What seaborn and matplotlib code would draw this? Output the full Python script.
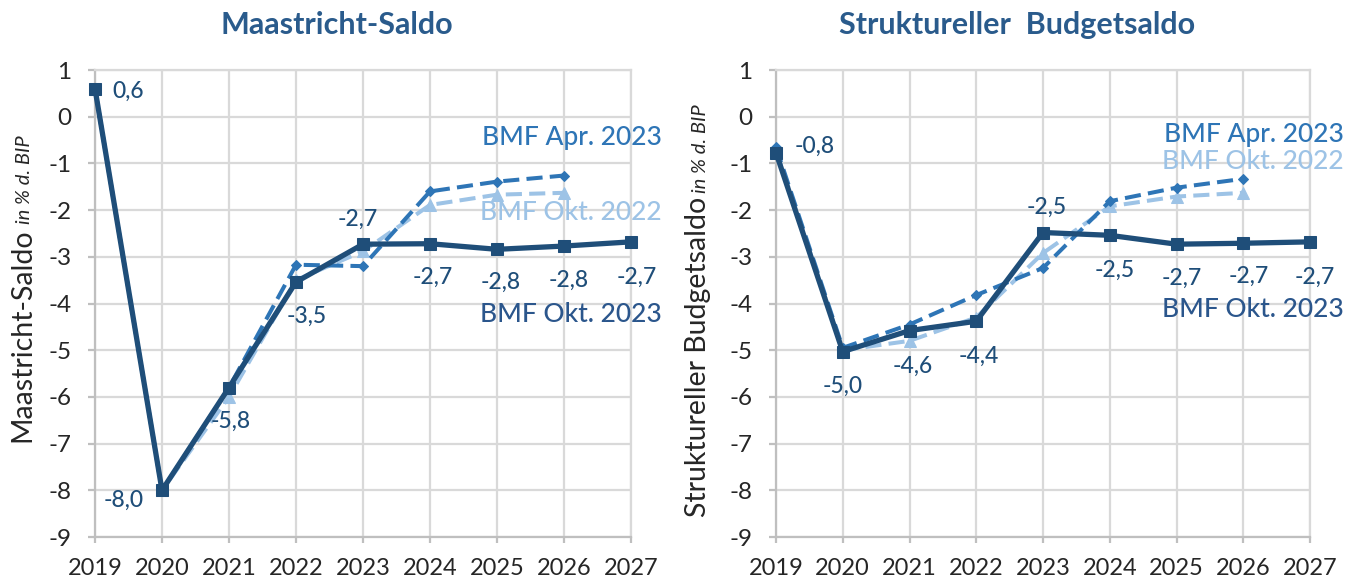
import numpy as np
import pandas as pd
import seaborn as sns
import matplotlib.pyplot as plt

# --- data -------------------------------------------------------------
years = [2019, 2020, 2021, 2022, 2023, 2024, 2025, 2026, 2027]
years_old = years[:-1]

# Maastricht-Saldo (in % d. BIP)
maas_okt23 = [0.6, -8.0, -5.8, -3.54, -2.73, -2.72, -2.84, -2.77, -2.68]
maas_apr23 = [0.6, -8.0, -5.8, -3.17, -3.2, -1.6, -1.39, -1.26]
maas_okt22 = [0.6, -8.0, -6.0, -3.5, -2.88, -1.89, -1.67, -1.63]

# Struktureller Budgetsaldo (in % d. BIP)
struk_okt23 = [-0.77, -5.03, -4.58, -4.38, -2.48, -2.54, -2.73, -2.71, -2.68]
struk_apr23 = [-0.65, -4.95, -4.45, -3.82, -3.24, -1.81, -1.52, -1.33]
struk_okt22 = [-0.72, -5.0, -4.8, -4.3, -2.92, -1.92, -1.71, -1.63]

yticks = list(range(-9, 2))

# label offsets in pixels (dx, dy) for the data labels of BMF Okt. 2023
maas_offsets = [(33, -3), (-38, -10), (2, -34), (11, -34), (-5, 25),
                (3, -34), (4, -33), (5, -34), (6, -35)]
struk_offsets = [(39, 6), (0, -35), (3, -36), (3, -35), (4, 25),
                 (5, -35), (5, -34), (5, -33), (5, -35)]

DARK = '#1F4E79'
MID = '#2E75B6'
LIGHT = '#9DC3E6'
TEXT = '#262626'

sns.set_style('white')
plt.rcParams['font.family'] = ['Lato', 'DejaVu Sans']
plt.rcParams['axes.unicode_minus'] = False

fig = plt.figure(figsize=(13.53, 5.81), dpi=100)
W, H = 1353, 581
ax1 = fig.add_axes([95 / W, 44 / H, 536 / W, 467 / H])
ax2 = fig.add_axes([776 / W, 44 / H, 534 / W, 467 / H])


def draw_panel(ax, okt23, apr23, okt22, offsets, lab_pos):
    sns.lineplot(x=years_old, y=okt22, ax=ax, color=LIGHT, linewidth=2.9,
                 linestyle=(0, (4, 1.8)), marker='^', markersize=8,
                 markeredgecolor=LIGHT, clip_on=False, zorder=2)
    sns.lineplot(x=years_old, y=apr23, ax=ax, color=MID, linewidth=2.9,
                 linestyle=(0, (4, 1.8)), marker='D', markersize=5.5,
                 markeredgecolor=MID, clip_on=False, zorder=3)
    sns.lineplot(x=years, y=okt23, ax=ax, color=DARK, linewidth=3.8,
                 marker='s', markersize=8.5, markeredgecolor=DARK,
                 clip_on=False, zorder=4)

    for x, v, (dx, dy) in zip(years, okt23, offsets):
        ax.annotate(f'{v:.1f}'.replace('.', ','), xy=(x, v),
                    xytext=(dx, dy), textcoords='offset pixels',
                    ha='center', va='center', fontsize=16.5, color=DARK,
                    fontweight='medium', annotation_clip=False)

    xr, (y_apr, y_o22, y_o23) = lab_pos
    ax.text(xr, y_apr, 'BMF Apr. 2023', ha='right', va='center',
            fontsize=19, color=MID, fontweight='medium', clip_on=False)
    ax.text(xr, y_o22, 'BMF Okt. 2022', ha='right', va='center',
            fontsize=19, color=LIGHT, fontweight='medium', clip_on=False)
    ax.text(xr, y_o23, 'BMF Okt. 2023', ha='right', va='center',
            fontsize=19, color='#2B568C', fontweight='medium', clip_on=False)

    ax.set_xlim(2019, 2027)
    ax.set_ylim(-9, 1)
    ax.set_xticks(years)
    ax.set_xticklabels([str(y) for y in years])
    ax.set_yticks(yticks)
    ax.set_yticklabels([str(t) for t in yticks])
    ax.grid(True, color='#D9D9D9', linewidth=1.6, zorder=0)
    ax.set_axisbelow(True)
    for side in ['top', 'right']:
        ax.spines[side].set_color('#D9D9D9')
        ax.spines[side].set_linewidth(1.6)
    for side in ['left', 'bottom']:
        ax.spines[side].set_color('#BFBFBF')
        ax.spines[side].set_linewidth(1.6)
    ax.tick_params(axis='y', length=5, width=1.6, color='#BFBFBF',
                   direction='out', pad=12, labelsize=17.5, labelcolor=TEXT,
                   left=True)
    ax.tick_params(axis='x', length=4, width=1.6, color='#BFBFBF',
                   direction='out', pad=11, labelsize=17, labelcolor=TEXT,
                   bottom=True)
    ax.set_xlabel('')
    ax.set_ylabel('')


draw_panel(ax1, maas_okt23, maas_apr23, maas_okt22, maas_offsets,
           (2027.46, (-0.45, -2.06, -4.24)))
draw_panel(ax2, struk_okt23, struk_apr23, struk_okt22, struk_offsets,
           (2027.5, (-0.39, -0.96, -4.13)))

# titles
fig.text(337 / W, 1 - 25 / H, 'Maastricht-Saldo', ha='center', va='center',
         fontsize=22, fontweight='bold', color='#2A5B8C')
fig.text(1017 / W, 1 - 25 / H, 'Struktureller  Budgetsaldo', ha='center',
         va='center', fontsize=22, fontweight='bold', color='#2A5B8C')

# y labels: normal part + smaller italic unit
fig.canvas.draw()
renderer = fig.canvas.get_renderer()
for name, bx, by in [('Maastricht-Saldo', 30, 442),
                     ('Struktureller Budgetsaldo', 706, 517)]:
    t = fig.text(bx / W, 1 - by / H, name, rotation=90,
                 rotation_mode='anchor', ha='left', va='baseline',
                 fontsize=20.5, color=TEXT)
    bb = t.get_window_extent(renderer)
    fig.text(bx / W, (bb.y1 + 4) / H, 'in % d. BIP', rotation=90,
             rotation_mode='anchor', ha='left', va='baseline',
             fontsize=14.5, style='italic', color=TEXT)

fig.savefig('out.png', dpi=100)
